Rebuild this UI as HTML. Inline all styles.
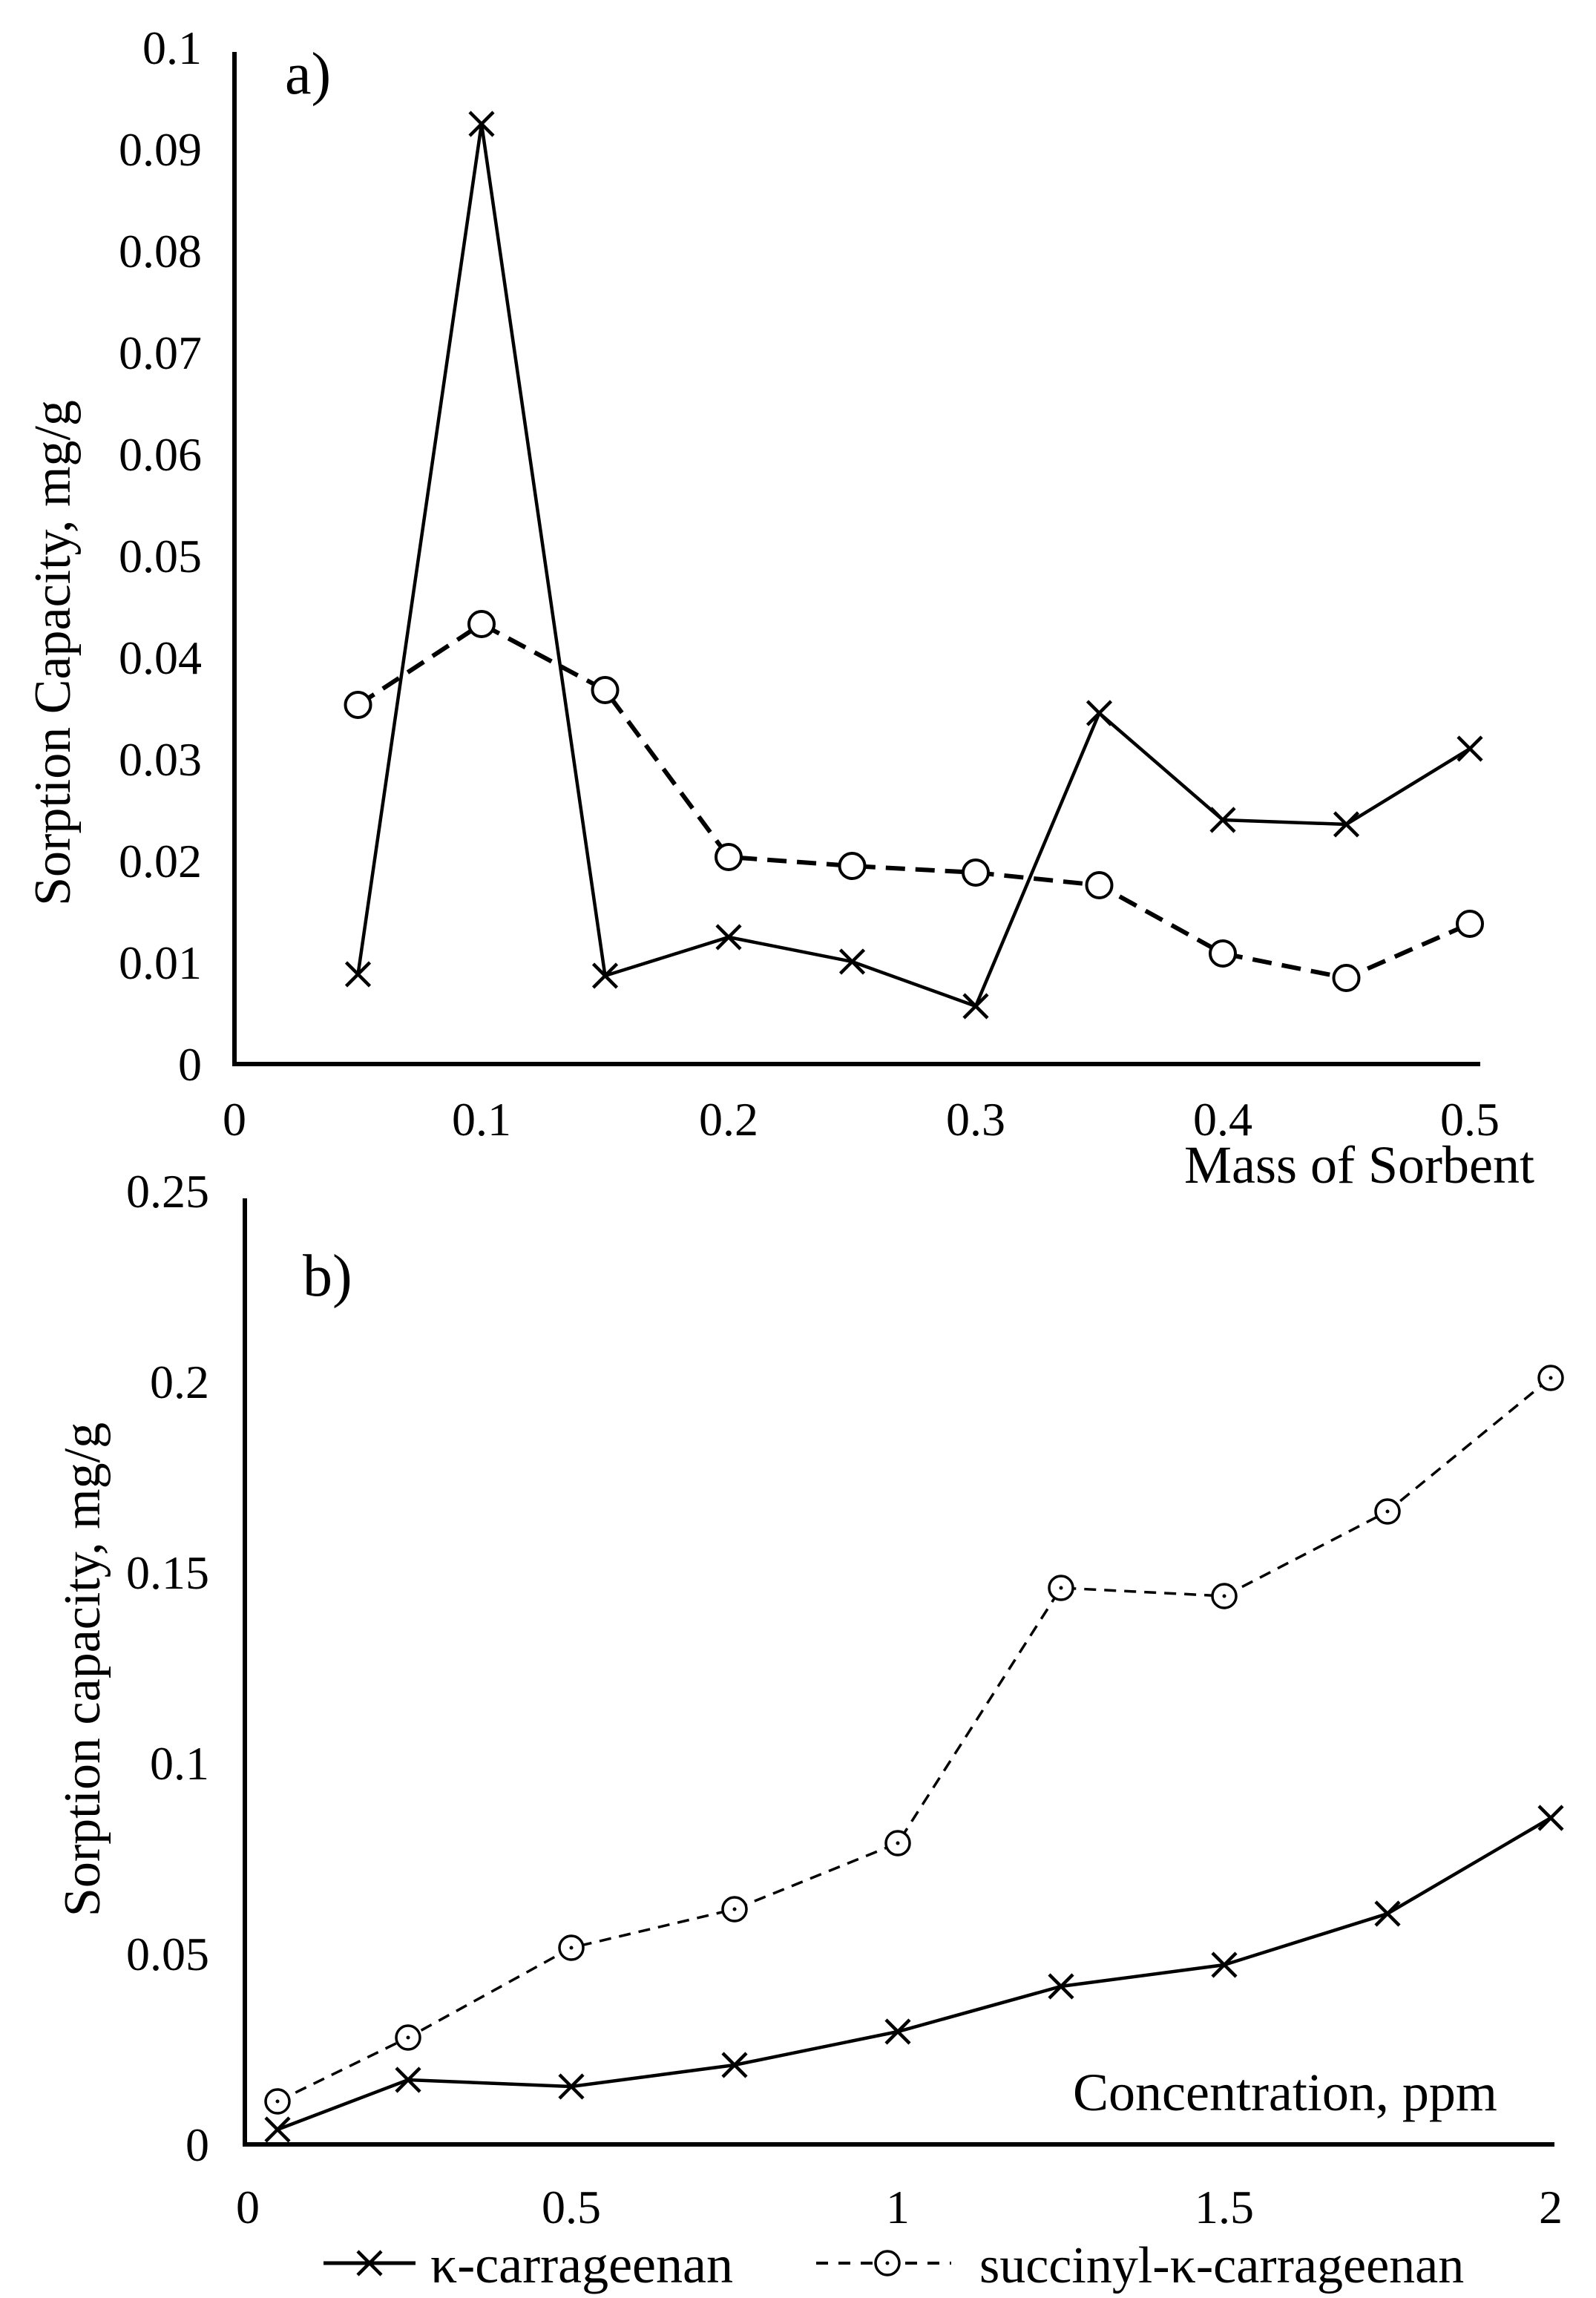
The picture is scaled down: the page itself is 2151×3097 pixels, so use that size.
<!DOCTYPE html>
<html><head><meta charset="utf-8"><style>
html,body{margin:0;padding:0;background:#fff}
svg{display:block}
text{font-family:"Liberation Serif",serif;fill:#000}
</style></head><body>
<svg width="2151" height="3097" viewBox="0 0 2151 3097" xmlns="http://www.w3.org/2000/svg">
<defs>
<g id="x"><path d="M-16,-16L16,16M-16,16L16,-16" stroke="#000" stroke-width="4.5" fill="none"/></g>
<g id="ca"><circle r="17" fill="#fff" stroke="#000" stroke-width="4"/></g>
<g id="cb"><circle r="16" fill="#fff" stroke="#000" stroke-width="3.5"/><circle r="2.5" fill="#000"/></g>
</defs>
<!-- Chart a -->
<g font-size="64">
<path d="M316,70V1434H1995" stroke="#000" stroke-width="6" fill="none"/>
<g text-anchor="end">
<text x="272" y="1456">0</text><text x="272" y="1319">0.01</text><text x="272" y="1182">0.02</text>
<text x="272" y="1045">0.03</text><text x="272" y="908">0.04</text><text x="272" y="771">0.05</text>
<text x="272" y="634">0.06</text><text x="272" y="497">0.07</text><text x="272" y="360">0.08</text>
<text x="272" y="223">0.09</text><text x="272" y="86">0.1</text>
</g>
<g text-anchor="middle">
<text x="316" y="1530">0</text><text x="649" y="1530">0.1</text><text x="982" y="1530">0.2</text>
<text x="1315" y="1530">0.3</text><text x="1648" y="1530">0.4</text><text x="1981" y="1530">0.5</text>
</g>
<text x="1596" y="1594" font-size="72">Mass of Sorbent</text>
<text x="384" y="126" font-size="80">a)</text>
<text transform="translate(94,880) rotate(-90)" text-anchor="middle" font-size="70">Sorption Capacity, mg/g</text>
</g>
<polyline points="482.5,1313 649,167 815.5,1315 982,1263 1148.5,1296 1315,1356 1481.5,961 1648,1105 1814.5,1111 1981,1009" fill="none" stroke="#000" stroke-width="4.5"/>
<polyline points="482.5,950 649,841 815.5,930 982,1155 1148.5,1167 1315,1176 1481.5,1193 1648,1285 1814.5,1318 1981,1245" fill="none" stroke="#000" stroke-width="6" stroke-dasharray="26,14"/>
<use href="#x" x="482.5" y="1313"/><use href="#x" x="649" y="167"/><use href="#x" x="815.5" y="1315"/><use href="#x" x="982" y="1263"/><use href="#x" x="1148.5" y="1296"/><use href="#x" x="1315" y="1356"/><use href="#x" x="1481.5" y="961"/><use href="#x" x="1648" y="1105"/><use href="#x" x="1814.5" y="1111"/><use href="#x" x="1981" y="1009"/>
<use href="#ca" x="482.5" y="950"/><use href="#ca" x="649" y="841"/><use href="#ca" x="815.5" y="930"/><use href="#ca" x="982" y="1155"/><use href="#ca" x="1148.5" y="1167"/><use href="#ca" x="1315" y="1176"/><use href="#ca" x="1481.5" y="1193"/><use href="#ca" x="1648" y="1285"/><use href="#ca" x="1814.5" y="1318"/><use href="#ca" x="1981" y="1245"/>
<!-- Chart b -->
<g font-size="64">
<path d="M330,1615V2890H2095" stroke="#000" stroke-width="6" fill="none"/>
<g text-anchor="end">
<text x="282" y="2912">0</text><text x="282" y="2655">0.05</text><text x="282" y="2398">0.1</text>
<text x="282" y="2141">0.15</text><text x="282" y="1884">0.2</text><text x="282" y="1627">0.25</text>
</g>
<g text-anchor="middle">
<text x="334" y="2996">0</text><text x="770" y="2996">0.5</text><text x="1210" y="2996">1</text>
<text x="1650" y="2996">1.5</text><text x="2090" y="2996">2</text>
</g>
<text x="1446" y="2844" font-size="72">Concentration, ppm</text>
<text x="408" y="1746" font-size="80">b)</text>
<text transform="translate(134,2250) rotate(-90)" text-anchor="middle" font-size="70">Sorption capacity, mg/g</text>
</g>
<polyline points="374,2870 550,2803 770,2812 990,2783 1210,2738 1430,2677 1650,2648 1870,2579 2090,2450" fill="none" stroke="#000" stroke-width="4.5"/>
<polyline points="374,2832 550,2746 770,2625 990,2573 1210,2484 1430,2140 1650,2151 1870,2037 2090,1857" fill="none" stroke="#000" stroke-width="3.5" stroke-dasharray="16,11"/>
<use href="#x" x="374" y="2870"/><use href="#x" x="550" y="2803"/><use href="#x" x="770" y="2812"/><use href="#x" x="990" y="2783"/><use href="#x" x="1210" y="2738"/><use href="#x" x="1430" y="2677"/><use href="#x" x="1650" y="2648"/><use href="#x" x="1870" y="2579"/><use href="#x" x="2090" y="2450"/>
<use href="#cb" x="374" y="2832"/><use href="#cb" x="550" y="2746"/><use href="#cb" x="770" y="2625"/><use href="#cb" x="990" y="2573"/><use href="#cb" x="1210" y="2484"/><use href="#cb" x="1430" y="2140"/><use href="#cb" x="1650" y="2151"/><use href="#cb" x="1870" y="2037"/><use href="#cb" x="2090" y="1857"/>
<!-- Legend -->
<line x1="436" y1="3050" x2="560" y2="3050" stroke="#000" stroke-width="5"/>
<use href="#x" x="498" y="3050"/>
<text x="580" y="3076" font-size="72">κ-carrageenan</text>
<line x1="1100" y1="3050" x2="1282" y2="3050" stroke="#000" stroke-width="4" stroke-dasharray="16,14"/>
<use href="#cb" x="1196" y="3050"/>
<text x="1320" y="3076" font-size="70">succinyl-κ-carrageenan</text>
</svg>
</body></html>
